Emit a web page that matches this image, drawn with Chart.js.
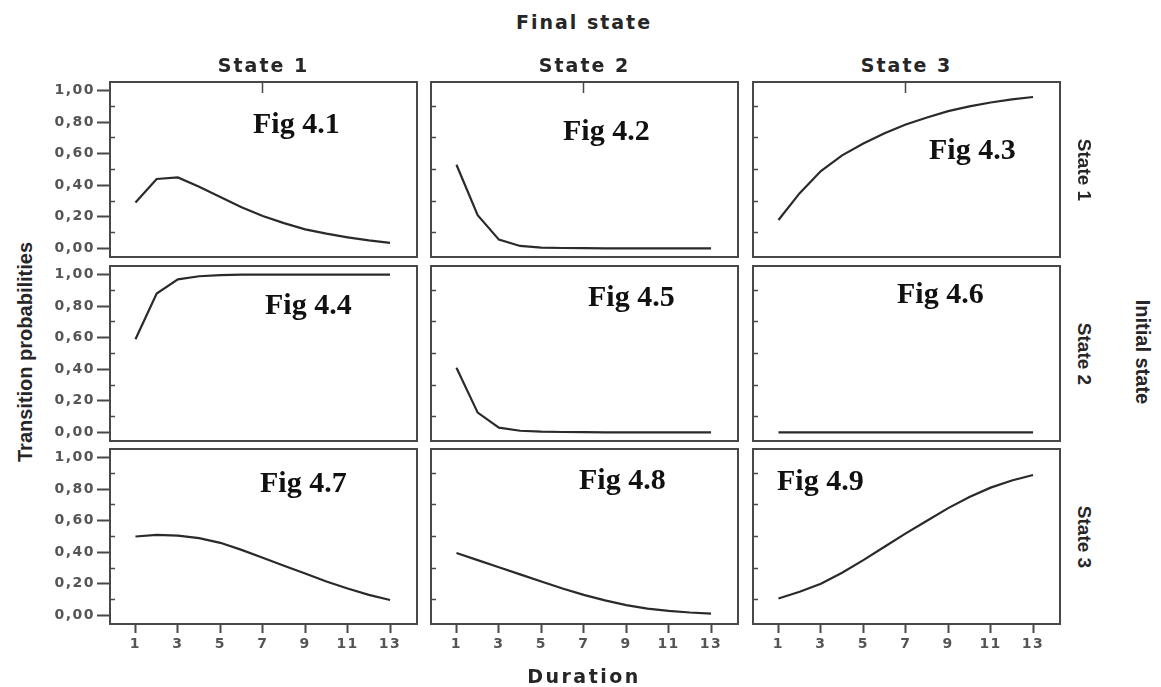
<!DOCTYPE html>
<html>
<head>
<meta charset="utf-8">
<title>Transition probabilities</title>
<script src="https://cdn.jsdelivr.net/npm/chart.js@4.4.1/dist/chart.umd.min.js"></script>
<style>
  body { margin: 0; background: #fff; }
  #page { position: relative; width: 1161px; height: 687px; overflow: hidden; background: #fff; }
  #page canvas { position: absolute; }
  .lbl { position: absolute; white-space: nowrap; line-height: 1; color: #262626; }
  .head { font-family: 'DejaVu Sans', sans-serif; font-weight: bold; transform: translate(-50%, -50%); }
  .side { font-family: 'Liberation Sans', Arial, sans-serif; font-weight: bold; }
  .fig { font-family: 'Liberation Serif', 'Times New Roman', serif; font-weight: bold; font-size: 30px; color: #111; transform: translateY(-50%); }
</style>
</head>
<body>
<div id="page"></div>
<script>
// x values (duration) and axis ticks
const durations = [1, 2, 3, 4, 5, 6, 7, 8, 9, 10, 11, 12, 13];
const xTicks = [1, 3, 5, 7, 9, 11, 13];
const yTicks = [0, 0.2, 0.4, 0.6, 0.8, 1.0];
const yTickLabels = ['0,00', '0,20', '0,40', '0,60', '0,80', '1,00'];
const yMinorTicks = [0.1, 0.3, 0.5, 0.7, 0.9];

const finalStates = ['State 1', 'State 2', 'State 3'];
const initialStates = ['State 1', 'State 2', 'State 3'];
const figNames = [
    ['Fig 4.1', 'Fig 4.2', 'Fig 4.3'],
    ['Fig 4.4', 'Fig 4.5', 'Fig 4.6'],
    ['Fig 4.7', 'Fig 4.8', 'Fig 4.9']
];

// transition probabilities, row = initial state, column = final state
const p11 = [0.29, 0.44, 0.45, 0.39, 0.325, 0.26, 0.205, 0.16, 0.12, 0.093, 0.07, 0.05, 0.035];
const p12 = [0.53, 0.21, 0.055, 0.015, 0.005, 0.002, 0.001, 0, 0, 0, 0, 0, 0];
const p13 = [0.18, 0.35, 0.49, 0.59, 0.665, 0.73, 0.785, 0.83, 0.87, 0.90, 0.925, 0.945, 0.96];
const p21 = [0.59, 0.88, 0.97, 0.99, 0.997, 1, 1, 1, 1, 1, 1, 1, 1];
const p22 = [0.41, 0.125, 0.03, 0.01, 0.004, 0.002, 0.001, 0, 0, 0, 0, 0, 0];
const p23 = [0, 0, 0, 0, 0, 0, 0, 0, 0, 0, 0, 0, 0];
const p31 = [0.50, 0.51, 0.505, 0.49, 0.46, 0.415, 0.365, 0.315, 0.265, 0.215, 0.17, 0.13, 0.097];
const p32 = [0.395, 0.35, 0.305, 0.26, 0.215, 0.17, 0.13, 0.095, 0.065, 0.043, 0.028, 0.018, 0.011];
const p33 = [0.107, 0.15, 0.2, 0.27, 0.35, 0.435, 0.52, 0.60, 0.68, 0.75, 0.81, 0.855, 0.89];
const panels = [[p11, p12, p13], [p21, p22, p23], [p31, p32, p33]];

// layout
const colLeft = [110, 431, 753];
const rowTop = [82, 266, 449];
const frameW = 307;
const frameH = 175;
const xMin = -0.2, xMax = 14.27;
const yMin = -0.055, yMax = 1.055;
const frameColor = '#484848';
const lineColor = '#2a2a2a';
const tickFont = { family: 'DejaVu Sans', size: 14, weight: 'bold' };
const tickColor = '#555';

// fig label anchor (left edge, vertical centre)
const figPos = [
    [[253, 123], [563, 130], [929, 149]],
    [[265, 304], [588, 296], [897, 293]],
    [[260, 482], [579, 479], [777, 480]]
];

const page = document.getElementById('page');

const spacing = {
    id: 'spacing',
    beforeDraw(chart) { chart.ctx.letterSpacing = '1.5px'; }
};

function setTicks(list) {
    return scale => { scale.ticks = list.map(v => ({ value: v })); };
}

// fix an axis to a given size and drop the label overhang padding
function fixSize(prop, size) {
    return s => {
        s[prop] = size;
        s.paddingTop = 0;
        s.paddingBottom = 0;
        s.paddingLeft = 0;
        s.paddingRight = 0;
    };
}

function makePanel(r, c) {
    const padL = c === 0 ? 60 : 4;
    const axisB = r === 2 ? 42 : 0;
    const padB = r === 2 ? 0 : 4;
    const canvas = document.createElement('canvas');
    canvas.width = padL + frameW + 4;
    canvas.height = 4 + frameH + axisB + padB;
    canvas.style.left = (colLeft[c] - padL) + 'px';
    canvas.style.top = (rowTop[r] - 4) + 'px';
    page.appendChild(canvas);

    const border = { display: true, color: frameColor, width: 2 };
    const scales = {
        x: {
            type: 'linear', position: 'bottom', min: xMin, max: xMax,
            afterBuildTicks: setTicks(xTicks),
            afterFit: fixSize('height', axisB),
            border: border,
            grid: { display: r === 2, drawOnChartArea: false, tickLength: 9, tickWidth: 2, tickColor: frameColor },
            ticks: { display: r === 2, padding: 3, font: tickFont, color: tickColor, maxRotation: 0, autoSkip: false }
        },
        xTop: {
            type: 'linear', position: 'top', min: xMin, max: xMax,
            afterBuildTicks: setTicks([7]),
            afterFit: fixSize('height', 0),
            border: border,
            grid: { display: r === 0, drawOnChartArea: false, tickLength: -11, tickWidth: 1.5, tickColor: frameColor },
            ticks: { display: false }
        },
        yMinor: {
            type: 'linear', position: 'left', weight: 0, min: yMin, max: yMax,
            afterBuildTicks: setTicks(yMinorTicks),
            afterFit: fixSize('width', 0),
            border: border,
            grid: { drawOnChartArea: false, tickLength: -5, tickWidth: 1.5, tickColor: frameColor },
            ticks: { display: false }
        },
        yRight: {
            type: 'linear', position: 'right', min: yMin, max: yMax,
            afterFit: fixSize('width', 0),
            border: border,
            grid: { display: false },
            ticks: { display: false }
        }
    };
    if (c === 0) {
        scales.y = {
            type: 'linear', position: 'left', weight: 1, min: yMin, max: yMax,
            afterBuildTicks: setTicks(yTicks),
            afterFit: fixSize('width', padL),
            border: { display: false },
            grid: { drawOnChartArea: false, tickLength: 13, tickWidth: 2, tickColor: frameColor },
            ticks: {
                padding: 2, font: tickFont, color: tickColor,
                callback: (v, i) => yTickLabels[i]
            }
        };
    }

    const values = panels[r][c];
    new Chart(canvas, {
        type: 'line',
        data: {
            datasets: [{
                data: durations.map((d, i) => ({ x: d, y: values[i] })),
                xAxisID: 'x',
                yAxisID: 'yMinor',
                borderColor: lineColor,
                borderWidth: 2.2,
                pointRadius: 0,
                tension: 0,
                fill: false
            }]
        },
        options: {
            responsive: false,
            animation: false,
            events: [],
            layout: { padding: { left: c === 0 ? 0 : 4, right: 4, top: 4, bottom: padB } },
            plugins: { legend: { display: false }, tooltip: { enabled: false } },
            scales: scales
        },
        plugins: [spacing]
    });
}

function addLabel(text, cls, x, y, css) {
    const el = document.createElement('div');
    el.className = 'lbl ' + cls;
    el.textContent = text;
    el.style.left = x + 'px';
    el.style.top = y + 'px';
    Object.assign(el.style, css || {});
    page.appendChild(el);
}

for (let r = 0; r < 3; r++) {
    for (let c = 0; c < 3; c++) {
        makePanel(r, c);
        addLabel(figNames[r][c], 'fig', figPos[r][c][0], figPos[r][c][1]);
    }
}

// titles
addLabel('Final state', 'head', 584, 22, { fontSize: '19px', letterSpacing: '2px' });
finalStates.forEach((s, c) => {
    addLabel(s, 'head', colLeft[c] + frameW / 2, 65, { fontSize: '19px', letterSpacing: '2px' });
});
addLabel('Duration', 'head', 584, 676, { fontSize: '19px', letterSpacing: '2.5px' });

initialStates.forEach((s, r) => {
    addLabel(s, 'side', 1084, rowTop[r] + frameH / 2, { fontSize: '19px', transform: 'translate(-50%, -50%) rotate(90deg)' });
});
addLabel('Initial state', 'side', 1143, 352, { fontSize: '20px', transform: 'translate(-50%, -50%) rotate(90deg)' });
addLabel('Transition probabilities', 'side', 25, 352, { fontSize: '20px', transform: 'translate(-50%, -50%) rotate(-90deg)' });
</script>
</body>
</html>
